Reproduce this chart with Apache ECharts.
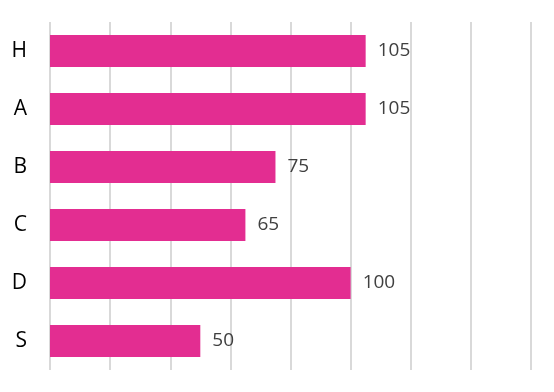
<!DOCTYPE html>
<html>
<head>
<meta charset="utf-8">
<script src="https://cdn.jsdelivr.net/npm/echarts@6/dist/echarts.min.js"></script>
<style>html,body{margin:0;padding:0;background:#fff}#c{width:554px;height:392px}</style>
</head>
<body>
<div id="c"></div>
<script>
var categories = ['H', 'A', 'B', 'C', 'D', 'S'];
var values = [105, 105, 75, 65, 100, 50];
var xTicks = { min: 0, max: 160, interval: 20 };

var chart = echarts.init(document.getElementById('c'), null, { renderer: 'canvas' });
chart.setOption({
  animation: false,
  backgroundColor: '#ffffff',
  grid: { left: 50, right: 23, top: 22, bottom: 22, containLabel: false },
  xAxis: {
    type: 'value', min: xTicks.min, max: xTicks.max, interval: xTicks.interval,
    axisLabel: { show: false }, axisTick: { show: false }, axisLine: { show: false },
    splitLine: { show: true, lineStyle: { color: '#d9d9d9', width: 2 } }
  },
  yAxis: {
    type: 'category', data: categories, inverse: true,
    axisLine: { show: false }, axisTick: { show: false },
    axisLabel: { color: '#000000', fontSize: 21, fontFamily: 'Open Sans', margin: 23 }
  },
  series: [{
    type: 'bar', data: values, barCategoryGap: '45%',
    itemStyle: { color: '#E32D91' },
    label: { show: true, position: 'right', distance: 12, color: '#404040', fontSize: 19, fontFamily: 'Open Sans' }
  }]
});
</script>
</body>
</html>
